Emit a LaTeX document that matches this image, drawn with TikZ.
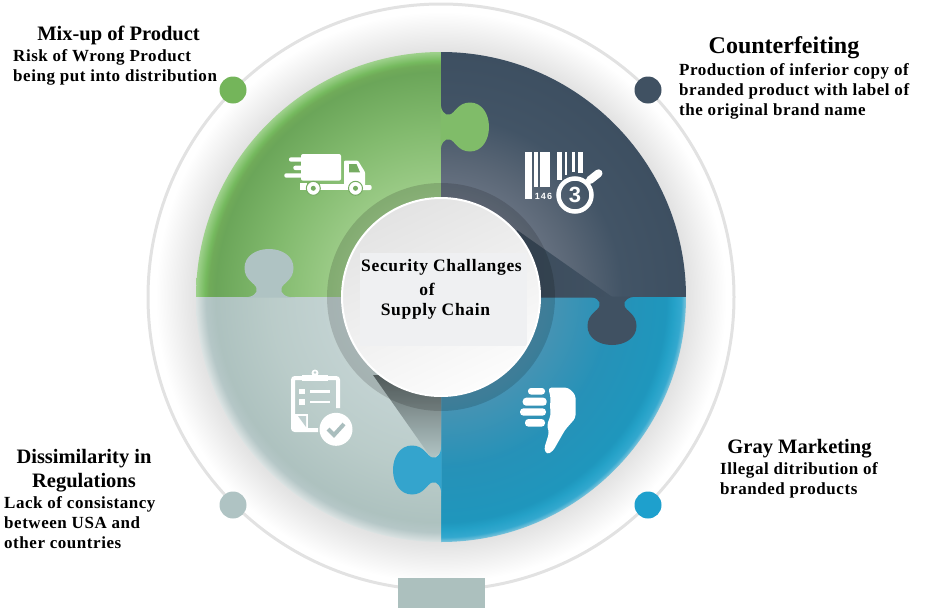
\documentclass[tikz,border=0pt]{standalone}
\usepackage{fontspec}
\setmainfont{Liberation Serif}
\setsansfont{Liberation Sans}
\usetikzlibrary{calc}

\definecolor{mixgreen}{RGB}{116,181,90}
\definecolor{tabgreen}{RGB}{128,188,105}
\definecolor{truckgreen}{RGB}{118,172,98}
\definecolor{fakedark}{RGB}{64,81,98}
\definecolor{graymarket}{RGB}{30,160,205}
\definecolor{tabblue}{RGB}{52,164,205}
\definecolor{rulegrey}{RGB}{175,195,195}
\definecolor{checkgrey}{RGB}{170,190,190}
\definecolor{ringgrey}{RGB}{226,226,226}
\definecolor{textpatch}{RGB}{239,240,242}
\definecolor{footgrey}{RGB}{172,192,190}

% a circle of radius R fills 25bp of these shadings
\pgfdeclareradialshading{haloshade}{\pgfpoint{0bp}{0bp}}{%
  color(0bp)=(ringgrey); color(21.1bp)=(ringgrey); color(24.6bp)=(white); color(50bp)=(white)}
\pgfdeclareradialshading{greendisc}{\pgfpoint{0bp}{0bp}}{%
  rgb(0bp)=(0.65,0.82,0.57); rgb(10bp)=(0.63,0.81,0.55); rgb(17.3bp)=(0.51,0.73,0.43);
  rgb(23bp)=(0.42,0.65,0.35); rgb(23.7bp)=(0.44,0.67,0.35); rgb(24.1bp)=(0.46,0.73,0.37); rgb(25bp)=(0.62,0.82,0.55); rgb(50bp)=(0.62,0.82,0.55)}
\pgfdeclareradialshading{darkdisc}{\pgfpoint{0bp}{0bp}}{%
  rgb(0bp)=(0.42,0.46,0.52); rgb(10bp)=(0.42,0.46,0.52); rgb(14bp)=(0.35,0.40,0.46);
  rgb(18.5bp)=(0.26,0.33,0.40); rgb(25bp)=(0.24,0.31,0.38); rgb(50bp)=(0.24,0.31,0.38)}
\pgfdeclareradialshading{bluedisc}{\pgfpoint{0bp}{0bp}}{%
  rgb(0bp)=(0.30,0.58,0.70); rgb(10bp)=(0.30,0.58,0.70); rgb(17.3bp)=(0.15,0.57,0.72);
  rgb(23bp)=(0.12,0.59,0.74); rgb(23.7bp)=(0.14,0.63,0.78); rgb(24.5bp)=(0.20,0.66,0.81); rgb(25bp)=(0.50,0.77,0.86); rgb(50bp)=(0.50,0.77,0.86)}
\pgfdeclareradialshading{greydisc}{\pgfpoint{0bp}{0bp}}{%
  rgb(0bp)=(0.77,0.83,0.83); rgb(10bp)=(0.77,0.83,0.83); rgb(17.3bp)=(0.73,0.80,0.79);
  rgb(23bp)=(0.68,0.76,0.75); rgb(24bp)=(0.71,0.78,0.78); rgb(25bp)=(0.86,0.89,0.89); rgb(50bp)=(0.86,0.89,0.89)}

\tikzset{
  headtext/.style={inner sep=0pt,align=center,font=\bfseries\fontsize{20.5}{24}\selectfont},
  bodytext/.style={inner sep=0pt,anchor=north west,align=left,font=\bfseries\fontsize{17}{20}\selectfont\addfontfeature{LetterSpace=3.2}},
  chaintext/.style={inner sep=0pt,font=\bfseries\fontsize{17.5}{20}\selectfont\addfontfeature{LetterSpace=3.8}},
  marker/.style={circle,inner sep=0pt,minimum size=27pt},
  icon/.style={fill=white}
}

% one jigsaw tab, base centred on (#1,#2), turned by #3
\newcommand{\puzzletab}[4]{%
  \fill[#4,shift={(#1,#2)},rotate=#3]
    (-26,0.5) .. controls (-17,0.5) and (-11,-3) .. (-12.5,-9)
    .. controls (-14,-14) and (-24.5,-17) .. (-24.5,-29)
    .. controls (-24.5,-41) and (-13,-48) .. (0,-48)
    .. controls (13,-48) and (24.5,-41) .. (24.5,-29)
    .. controls (24.5,-17) and (14,-14) .. (12.5,-9)
    .. controls (11,-3) and (17,0.5) .. (26,0.5) -- cycle;}

\begin{document}
\begin{tikzpicture}[x=1pt,y=-1pt]
\useasboundingbox (0,0) rectangle (930,608);
\coordinate (hub) at (441,297);

% halo and thin ring
\shade[shading=haloshade] (hub) circle (290);
\draw[ringgrey,line width=3pt] (hub) circle (293);

% the four quarters
\foreach \qx/\qy/\qshade in {196/52/greendisc,441/52/darkdisc,441/297/bluedisc,196/297/greydisc}{
  \begin{scope}
    \clip (\qx,\qy) rectangle ++(245,245);
    \shade[shading=\qshade] (hub) circle (245);
  \end{scope}
}

% long shadows
\shade[top color=black!45!rulegrey,bottom color=rulegrey!95!white] (373,375) -- (432,459) -- (441,452) -- (441,375) -- cycle;
\shade[left color=fakedark!93!black,right color=fakedark] (517,230) -- (613,297.5) -- (500,297.5) -- cycle;

% jigsaw tabs
\puzzletab{441}{127}{-90}{tabgreen}
\puzzletab{612}{297}{180}{fakedark}
\puzzletab{441}{470}{90}{tabblue}
\puzzletab{269}{297}{0}{rulegrey}

% hub
\fill[black,fill opacity=0.15] (hub) circle (114);
\shade[top color=black!11,bottom color=black!1,shading angle=25] (hub) circle (99);
\fill[textpatch] (360,253) rectangle (527,346);
\draw[white,line width=2pt] (hub) circle (99);

% truck
\fill[icon,rounded corners=2pt] (301,154) rectangle (341,180.7);
\fill[icon,rounded corners=2pt] (289,157.3) rectangle (304,161.7);
\fill[icon,rounded corners=2pt] (293.3,165.7) rectangle (304,170);
\fill[icon,rounded corners=2pt] (284.3,173.3) rectangle (304,177.7);
\fill[icon,rounded corners=1pt] (344,160.7) -- (358,160.7) -- (365,172) -- (365,186) -- (344,186) -- cycle;
\fill[truckgreen] (349,164) -- (356.5,164) -- (360,172.3) -- (349,172.3) -- cycle;
\fill[icon] (300,182.5) rectangle (306.7,190);
\fill[icon] (320,183.5) rectangle (350,190);
\fill[icon,rounded corners=2pt] (360,185) rectangle (371.7,190);
\foreach \wx in {313.3,355.5}{
  \fill[icon,draw=truckgreen,line width=1pt] (\wx,188.3) circle (7);
  \fill[truckgreen] (\wx,188.3) circle (2.5);
}

% barcode
\foreach \bl/\br/\bb in {525/531.7/199.3,534.3/537.7/187.3,540/550/187.3,556.7/561.7/180,565/567.3/175,571.7/575/172,578.3/583.3/173}{
  \fill[icon] (\bl,151.7) rectangle (\br,\bb);
}
\node[inner sep=0pt,text=white,font=\sffamily\bfseries\fontsize{9}{10}\selectfont\addfontfeature{LetterSpace=12}] (codenum) at (543.5,196) {146};
\draw[white,line width=4.5pt] (575,195) circle (16.5);
\node[inner sep=0pt,text=white,font=\sffamily\bfseries\fontsize{22}{24}\selectfont] (codethree) at (575,195) {3};
\draw[white,line width=8pt,line cap=round] (590,180) -- (598.5,173.3);

% clipboard
\draw[white,line width=4pt,rounded corners=2pt] (338,408) -- (338,378) -- (293,378) -- (293,430) -- (318,430);
\fill[icon] (302,375) rectangle (328,381);
\fill[icon] (315,373) circle (3.5);
\fill[rulegrey!80!white] (315,372.5) circle (1.3);
\fill[icon] (299,389) rectangle (305,394);
\fill[icon] (299,399) rectangle (305,405);
\fill[icon] (310,390) rectangle (330,393);
\fill[icon] (310,401) rectangle (330,403);
\fill[icon] (293,414) rectangle (308,431);
\fill[rulegrey!80!white] (298,416) -- (306,416) -- (306,427) -- cycle;
\fill[icon] (336,429.3) circle (16.5);
\draw[checkgrey,line width=4pt] (328,429) -- (334,435) -- (344,424);

% thumb
\fill[icon,rounded corners=3pt] (528,388) rectangle (545,394.5);
\fill[icon,rounded corners=3.5pt] (522.7,397.7) rectangle (546.7,405.7);
\fill[icon,rounded corners=3.5pt] (520,408.3) rectangle (546,415.7);
\fill[icon,rounded corners=3.5pt] (525,419) rectangle (545,426.7);
\fill[icon,rounded corners=3pt] (548.3,387.7) -- (568.3,387.7) -- (575.5,395) -- (575.5,418) -- (565,430) -- (553,451) -- (547,454.5) -- (544,449) -- (549,433) -- (547,425) -- (550.7,415) -- (550,405) -- (550.7,398) -- cycle;

% markers
\node[marker,fill=mixgreen] (mixdot) at (233,90) {};
\node[marker,fill=fakedark] (fakedot) at (648,90) {};
\node[marker,fill=rulegrey] (regdot) at (233,505) {};
\node[marker,fill=graymarket] (graydot) at (648,505) {};

% foot
\fill[footgrey] (398,578) rectangle (485,608);

% labels
\node[headtext] (mixhead) at (118.5,35) {Mix-up of Product};
\node[bodytext] (mixbody) at (13,49) {Risk of Wrong Product\\being put into distribution};
\node[headtext,font=\bfseries\fontsize{24}{26}\selectfont] (fakehead) at (784,48) {Counterfeiting};
\node[bodytext] (fakebody) at (679,63.5) {Production of inferior copy of\\branded product with label of\\the original brand name};
\node[headtext] (reghead) at (84,471) {Dissimilarity in\\Regulations};
\node[bodytext] (regbody) at (4,496) {Lack of consistancy\\between USA and\\other countries};
\node[headtext] (grayhead) at (799.5,449) {Gray Marketing};
\node[bodytext] (graybody) at (720,462) {Illegal ditribution of\\branded products};
\node[chaintext] (chainone) at (441.5,267) {Security Challanges};
\node[chaintext] (chaintwo) at (427,289) {of};
\node[chaintext] (chainthree) at (435.5,311) {Supply Chain};
\end{tikzpicture}
\end{document}
